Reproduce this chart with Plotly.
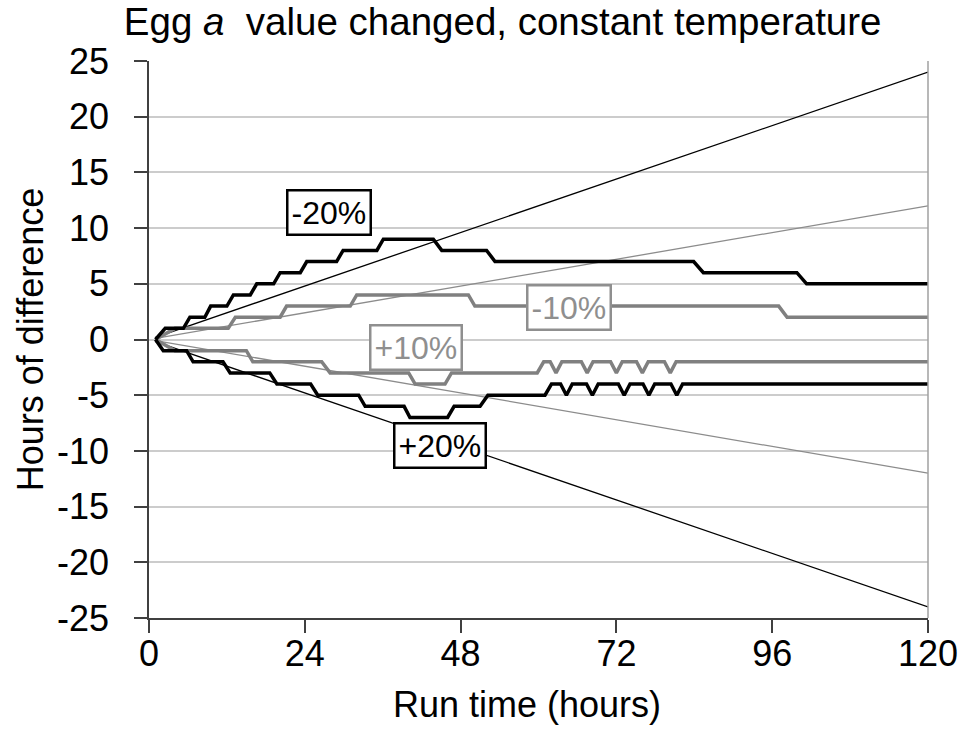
import plotly.graph_objects as go

# ---- data ----
hours_m20 = [1, 2.5, 5.3, 6.3, 8.6, 9.5, 12, 13, 15.6, 16.6, 19.2, 20.2, 23.3, 24.3,
             28.9, 29.9, 35.1, 36.1, 43.8, 45.1, 52, 53.3, 83.9, 85.4, 99.8, 101.3, 120]
diff_m20 = [0, 1, 1, 2, 2, 3, 3, 4, 4, 5, 5, 6, 6, 7,
            7, 8, 8, 9, 9, 8, 8, 7, 7, 6, 6, 5, 5]

hours_m10 = [1, 4, 12.2, 13.3, 20.2, 21.2, 31, 32, 49.2, 50.2, 97, 98.3, 120]
diff_m10 = [0, 1, 1, 2, 2, 3, 3, 4, 4, 3, 3, 2, 2]

hours_p10 = [1, 4, 15, 16, 26.6, 27.9, 40, 41, 45.6, 46.6,
             59.8, 60.8, 61.8, 62.7, 63.6, 66.6, 67.5, 68.4, 71.1, 72, 72.9,
             75.1, 76, 76.9, 79.4, 80.3, 81.2, 120]
diff_p10 = [0, -1, -1, -2, -2, -3, -3, -4, -4, -3,
            -3, -2, -2, -3, -2, -2, -3, -2, -2, -3, -2,
            -2, -3, -2, -2, -3, -2, -2]

hours_p20 = [1, 2.2, 5.8, 6.8, 11.4, 12.5, 18.6, 19.7, 24.9, 26,
             32.3, 33.3, 39.3, 40.2, 46, 47, 51, 52.2, 61, 62,
             63.4, 64.3, 65.2, 67.4, 68.3, 69.2, 72.3, 73.2, 74.1,
             76.1, 77, 77.9, 80.4, 81.3, 82.2, 120]
diff_p20 = [0, -1, -1, -2, -2, -3, -3, -4, -4, -5,
            -5, -6, -6, -7, -7, -6, -6, -5, -5, -4,
            -4, -5, -4, -4, -5, -4, -4, -5, -4,
            -4, -5, -4, -4, -5, -4, -4]

hours_ref = [1, 120]
ref_m20 = [0.2, 24]
ref_m10 = [0.1, 12]
ref_p10 = [-0.1, -12]
ref_p20 = [-0.2, -24]

label_text = ["-20%", "-10%", "+10%", "+20%"]
label_x = [27.7, 64.7, 41.1, 44.8]
label_y = [11.4, 2.9, -0.7, -9.5]
label_color = ["#000000", "#8f8f8f", "#8f8f8f", "#000000"]

x_ticks = [0, 24, 48, 72, 96, 120]
y_ticks = [25, 20, 15, 10, 5, 0, -5, -10, -15, -20, -25]
y_ticktext = ["25", "20", "15", "10", "5", "0", "-5", "-10", "-15", "-20", "-25"]

FONT = "Liberation Sans, Arial, sans-serif"
BLACK = "#000000"
GRAY = "#808080"
THIN_GRAY = "#8c8c8c"

fig = go.Figure()

# thin reference lines
for ys, col in [(ref_m20, BLACK), (ref_p20, BLACK), (ref_m10, THIN_GRAY), (ref_p10, THIN_GRAY)]:
    fig.add_trace(go.Scatter(x=hours_ref, y=ys, mode="lines",
                             line=dict(color=col, width=1.3), showlegend=False, hoverinfo="skip"))

# step series
for xs, ys, col in [(hours_m10, diff_m10, GRAY), (hours_p10, diff_p10, GRAY),
                    (hours_m20, diff_m20, BLACK), (hours_p20, diff_p20, BLACK)]:
    fig.add_trace(go.Scatter(x=xs, y=ys, mode="lines",
                             line=dict(color=col, width=3.5), showlegend=False, hoverinfo="skip"))

for t, lx, ly, c in zip(label_text, label_x, label_y, label_color):
    fig.add_annotation(x=lx, y=ly, xref="x", yref="y", text=t, showarrow=False,
                       font=dict(family=FONT, size=32, color=c),
                       bgcolor="white", bordercolor=c, borderwidth=2.5, borderpad=3)

# x axis title
fig.add_annotation(x=0.4846, y=-0.156, xref="paper", yref="paper", xanchor="center", yanchor="middle",
                   text="Run time (hours)", showarrow=False,
                   font=dict(family=FONT, size=36, color="black"))

fig.update_layout(
    width=963, height=738,
    margin=dict(l=149, r=35, t=61, b=120, autoexpand=False),
    paper_bgcolor="white", plot_bgcolor="white",
    font=dict(family=FONT, color="black", size=36),
    title=dict(text="Egg <i>a</i>  value changed, constant temperature",
               x=0.454, xref="paper", xanchor="center",
               y=1 - 22 / 738, yref="container", yanchor="middle",
               font=dict(family=FONT, size=38.5, color="black")),
    showlegend=False,
)

fig.update_xaxes(range=[0, 120], tickvals=x_ticks, ticks="outside", ticklen=13,
                 tickcolor="#404040", tickwidth=1.5,
                 showline=True, linecolor="#404040", linewidth=1.5,
                 showgrid=False, zeroline=False, automargin=False,
                 tickfont=dict(family=FONT, size=36), ticklabelstandoff=-10)

fig.update_yaxes(range=[-25, 25], tickvals=y_ticks, ticktext=y_ticktext, ticks="outside", ticklen=13,
                 tickcolor="#404040", tickwidth=1.5,
                 showline=True, linecolor="#404040", linewidth=1.5,
                 showgrid=True, gridcolor="#cccccc", gridwidth=1.5, zeroline=False, automargin=False,
                 tickfont=dict(family=FONT, size=36), ticklabelstandoff=18,
                 title=dict(text="Hours of difference", font=dict(family=FONT, size=36), standoff=2))

# right border of plot area
fig.add_shape(type="line", xref="paper", yref="paper", x0=1, x1=1, y0=0, y1=1,
              line=dict(color="#a0a0a0", width=1.5))

fig.write_html("out.html")
